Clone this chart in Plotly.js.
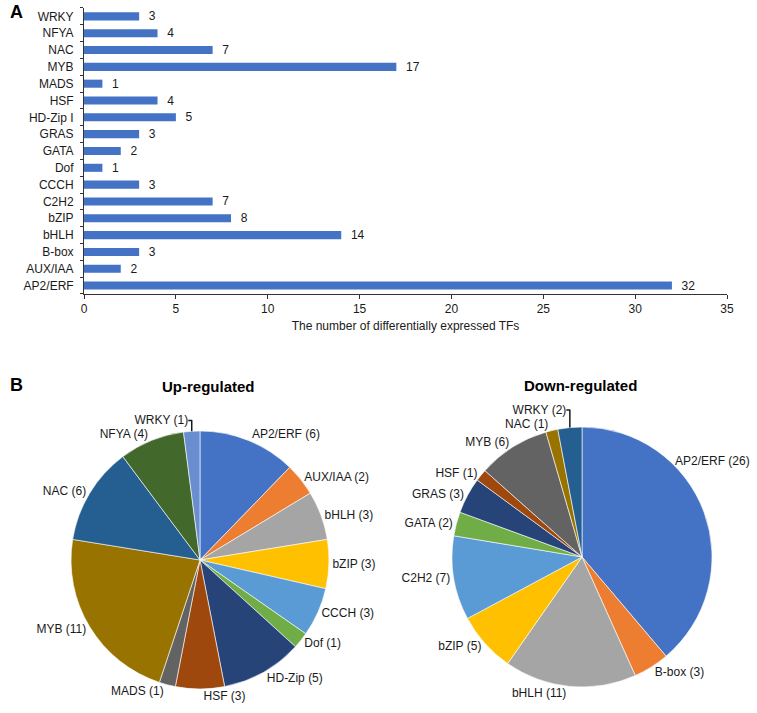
<!DOCTYPE html>
<html>
<head>
<meta charset="utf-8">
<script src="https://cdn.plot.ly/plotly-3.0.1.min.js"></script>
<style>
  html, body { margin: 0; padding: 0; background: #fff; }
  #chart { width: 757px; height: 713px; }
</style>
</head>
<body>
<div id="chart"></div>
<script>
// ---- Data ----
// Panel A (bottom -> top on the axis)
var barCategories = ["AP2/ERF", "AUX/IAA", "B-box", "bHLH", "bZIP", "C2H2", "CCCH", "Dof", "GATA", "GRAS", "HD-Zip I", "HSF", "MADS", "MYB", "NAC", "NFYA", "WRKY"];
var barValues = [32, 2, 3, 14, 8, 7, 3, 1, 2, 3, 5, 4, 1, 17, 7, 4, 3];
var xTickValues = [0, 5, 10, 15, 20, 25, 30, 35];

// Panel B - Up-regulated
var upLabels = ["AP2/ERF", "AUX/IAA", "bHLH", "bZIP", "CCCH", "Dof", "HD-Zip", "HSF", "MADS", "MYB", "NAC", "NFYA", "WRKY"];
var upValues = [6, 2, 3, 3, 3, 1, 5, 3, 1, 11, 6, 4, 1];
var upColors = ["#4472C4", "#ED7D31", "#A5A5A5", "#FFC000", "#5B9BD5", "#70AD47", "#264478", "#9E480E", "#636363", "#997300", "#255E91", "#43682B", "#698ED0"];

// Panel B - Down-regulated
var downLabels = ["AP2/ERF", "B-box", "bHLH", "bZIP", "C2H2", "GATA", "GRAS", "HSF", "MYB", "NAC", "WRKY"];
var downValues = [26, 3, 11, 5, 7, 2, 3, 1, 6, 1, 2];
var downColors = ["#4472C4", "#ED7D31", "#A5A5A5", "#FFC000", "#5B9BD5", "#70AD47", "#264478", "#9E480E", "#636363", "#997300", "#255E91"];

var FONT = "Liberation Sans, Arial, sans-serif";
var TXT = "#1a1a1a";
var TPL = "%{label} (%{value})";

// the first (largest) down-regulated slice label is placed as an annotation so it is not cut at the right edge
var downTemplates = downLabels.map(function (l, i) { return i === 0 ? "" : TPL; });

var traces = [
  {
    type: "bar",
    orientation: "h",
    x: barValues,
    y: barCategories,
    marker: { color: "#4472C4" },
    text: barValues.map(function (v) { return "\u00a0\u00a0" + v; }),
    textposition: "outside",
    constraintext: "none",
    textfont: { family: FONT, size: 12, color: TXT },
    cliponaxis: false,
    hoverinfo: "x+y",
    xaxis: "x",
    yaxis: "y"
  },
  {
    type: "pie",
    labels: upLabels,
    values: upValues,
    sort: false,
    direction: "clockwise",
    rotation: 0,
    marker: { colors: upColors, line: { color: "#ffffff", width: 0.6 } },
    texttemplate: TPL,
    textposition: "outside",
    textfont: { family: FONT, size: 12, color: TXT },
    showlegend: false,
    domain: { x: [0.0938, 0.4346], y: [0.0337, 0.3955] }
  },
  {
    type: "pie",
    labels: downLabels,
    values: downValues,
    sort: false,
    direction: "clockwise",
    rotation: 0,
    marker: { colors: downColors, line: { color: "#ffffff", width: 0.6 } },
    texttemplate: downTemplates,
    textposition: "outside",
    textfont: { family: FONT, size: 12, color: TXT },
    showlegend: false,
    domain: { x: [0.5971, 0.9406], y: [0.0365, 0.4011] }
  }
];

var layout = {
  width: 757,
  height: 713,
  margin: { l: 0, r: 0, t: 0, b: 0 },
  paper_bgcolor: "#ffffff",
  plot_bgcolor: "#ffffff",
  showlegend: false,
  font: { family: FONT, size: 12, color: TXT },
  bargap: 0.52,
  xaxis: {
    domain: [0.111, 0.9604],
    anchor: "y",
    range: [0, 35],
    tickvals: xTickValues,
    ticks: "outside",
    ticklen: 4,
    tickcolor: "#333",
    showline: true,
    linecolor: "#333",
    linewidth: 1,
    showgrid: false,
    zeroline: false,
    tickfont: { family: FONT, size: 12, color: TXT },
    title: { text: "The number of differentially expressed TFs", font: { family: FONT, size: 12, color: TXT }, standoff: 6 }
  },
  yaxis: {
    domain: [0.5877, 0.9888],
    anchor: "x",
    type: "category",
    categoryorder: "array",
    categoryarray: barCategories,
    tickson: "boundaries",
    ticks: "outside",
    ticklen: 3,
    tickcolor: "#333",
    ticklabelstandoff: 7,
    showline: true,
    linecolor: "#333",
    linewidth: 1,
    showgrid: false,
    zeroline: false,
    tickfont: { family: FONT, size: 12, color: TXT }
  },
  annotations: [
    { text: "<b>A</b>", xref: "paper", yref: "paper", x: 8 / 757, y: 1 - 12 / 713, xanchor: "left", yanchor: "middle", showarrow: false, font: { family: FONT, size: 18, color: "#000" } },
    { text: "<b>B</b>", xref: "paper", yref: "paper", x: 8 / 757, y: 1 - 385 / 713, xanchor: "left", yanchor: "middle", showarrow: false, font: { family: FONT, size: 18, color: "#000" } },
    { text: "<b>Up-regulated</b>", xref: "paper", yref: "paper", x: 208 / 757, y: 1 - 386 / 713, xanchor: "center", yanchor: "middle", showarrow: false, font: { family: FONT, size: 15, color: "#000" } },
    { text: "<b>Down-regulated</b>", xref: "paper", yref: "paper", x: 580 / 757, y: 1 - 385 / 713, xanchor: "center", yanchor: "middle", showarrow: false, font: { family: FONT, size: 15, color: "#000" } },
    { text: downLabels[0] + " (" + downValues[0] + ")", xref: "paper", yref: "paper", x: 752 / 757, y: 1 - 461 / 713, xanchor: "right", yanchor: "middle", showarrow: false, font: { family: FONT, size: 12, color: TXT } }
  ]
};

Plotly.newPlot("chart", traces, layout, { displayModeBar: false, staticPlot: true });
</script>
</body>
</html>
